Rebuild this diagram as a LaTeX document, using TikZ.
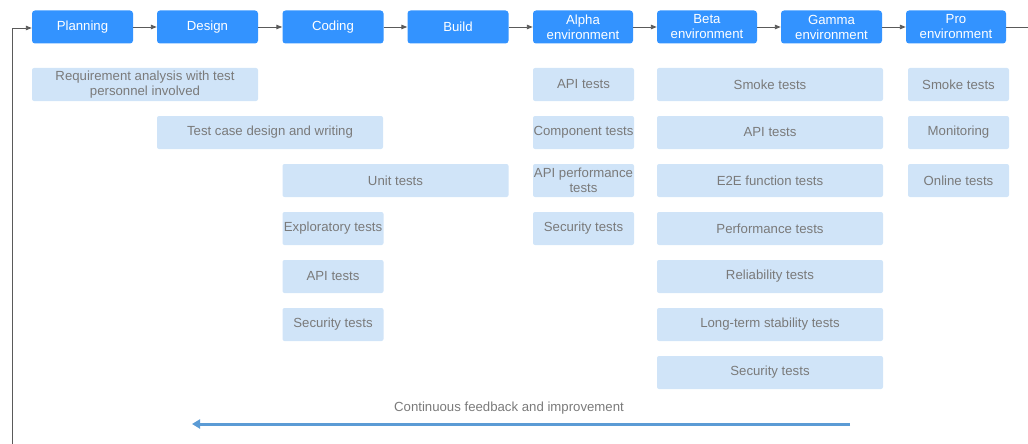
\documentclass[tikz,border=0pt]{standalone}
\usepackage{fontspec}
\setmainfont{Liberation Sans}
\usetikzlibrary{arrows.meta}
\definecolor{stageblue}{HTML}{3393FF}
\definecolor{testblue}{HTML}{D0E4F8}
\definecolor{testtext}{HTML}{7A7A7A}
\definecolor{flowgrey}{HTML}{5A5A5A}
\definecolor{feedblue}{HTML}{5B9BD5}
\tikzset{
  stagebox/.style={fill=stageblue, text=white, rounded corners=3pt, minimum height=33pt, inner sep=0pt, align=center, font=\fontsize{13.2}{15}\selectfont},
  testbox/.style={fill=testblue, text=testtext, rounded corners=2pt, minimum height=33pt, inner sep=0pt, align=center, font=\fontsize{13.2}{15}\selectfont},
  flow/.style={draw=flowgrey, line width=0.9pt, -{Triangle[length=6pt,width=4.5pt]}},
  feed/.style={draw=feedblue, line width=3pt, -{Triangle[length=8pt,width=9pt]}},
}
\begin{document}
\begin{tikzpicture}[x=1pt,y=-1pt]
\useasboundingbox (0,0) rectangle (1028,444);
% stages
\node[stagebox, minimum width=101pt] (plan) at (82.5,27) {Planning};
\node[stagebox, minimum width=101pt] (design) at (207.5,27) {Design};
\node[stagebox, minimum width=101pt] (coding) at (333,27) {Coding};
\node[stagebox, minimum width=101pt] (build) at (458,27) {Build};
\node[stagebox, minimum width=100pt] (alpha) at (583,27) {Alpha\\environment};
\node[stagebox, minimum width=100pt] (beta) at (707,27) {Beta\\environment};
\node[stagebox, minimum width=101pt] (gamma) at (831.5,27) {Gamma\\environment};
\node[stagebox, minimum width=100pt] (pro) at (956,27) {Pro\\environment};
\coordinate (outR) at (1028,27);
\coordinate (inB) at (12,444);
\coordinate (inC) at (12,28);
\draw[flow] (plan) -- (design);
\draw[flow] (design) -- (coding);
\draw[flow] (coding) -- (build);
\draw[flow] (build) -- (alpha);
\draw[flow] (alpha) -- (beta);
\draw[flow] (beta) -- (gamma);
\draw[flow] (gamma) -- (pro);
\draw[draw=flowgrey, line width=0.9pt] (pro) -- (outR);
\draw[flow] (inB) -- (inC) -- (plan.west |- inC);
% planning/design/coding tests
\node[testbox, minimum width=226pt] (req) at (145,84.5) {Requirement analysis with test\\personnel involved};
\node[testbox, minimum width=226pt] (tcd) at (270,132.5) {Test case design and writing};
\node[testbox, minimum width=226pt] (unit) at (395.5,180.5) {Unit tests};
\node[testbox, minimum width=101pt] (expl) at (333,228.5) {Exploratory tests};
\node[testbox, minimum width=101pt] (capi) at (333,276.5) {API tests};
\node[testbox, minimum width=101pt] (csec) at (333,324.5) {Security tests};
% alpha
\node[testbox, minimum width=101pt] (aapi) at (583.5,84.5) {API tests};
\node[testbox, minimum width=101pt] (acomp) at (583.5,132.5) {Component tests};
\node[testbox, minimum width=101pt] (aperf) at (583.5,180.5) {API performance\\tests};
\node[testbox, minimum width=101pt] (asec) at (583.5,228.5) {Security tests};
% beta/gamma
\node[testbox, minimum width=226pt] (bsmoke) at (770,84.5) {Smoke tests};
\node[testbox, minimum width=226pt] (bapi) at (770,132.5) {API tests};
\node[testbox, minimum width=226pt] (be2e) at (770,180.5) {E2E function tests};
\node[testbox, minimum width=226pt] (bperf) at (770,228.5) {Performance tests};
\node[testbox, minimum width=226pt] (brel) at (770,276.5) {Reliability tests};
\node[testbox, minimum width=226pt] (blong) at (770,324.5) {Long-term stability tests};
\node[testbox, minimum width=226pt] (bsec) at (770,372.5) {Security tests};
% pro
\node[testbox, minimum width=101pt] (psmoke) at (958.5,84.5) {Smoke tests};
\node[testbox, minimum width=101pt] (pmon) at (958.5,132.5) {Monitoring};
\node[testbox, minimum width=101pt] (ponl) at (958.5,180.5) {Online tests};
% feedback
\coordinate (fbS) at (850,424);
\coordinate (fbE) at (192,424);
\draw[feed] (fbS) -- (fbE);
\node[text=testtext, font=\fontsize{13.2}{15}\selectfont] (fbl) at (509,408) {Continuous feedback and improvement};
\end{tikzpicture}
\end{document}
